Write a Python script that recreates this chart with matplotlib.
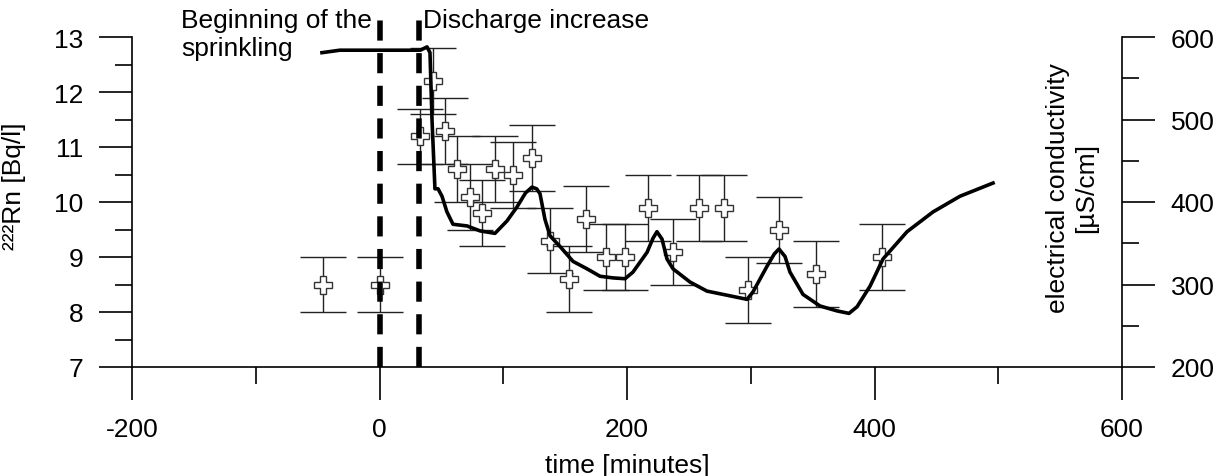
import numpy as np
import matplotlib
matplotlib.use("Agg")
import matplotlib.pyplot as plt
from matplotlib.ticker import MultipleLocator

plt.rcParams['font.family'] = ['Liberation Sans', 'DejaVu Sans']
plt.rcParams['font.size'] = 19
plt.rcParams['lines.scale_dashes'] = False
plt.rcParams['axes.unicode_minus'] = False

# radon measurements (time in minutes, Bq/l, error)
rn_time = [-46, 0, 33, 43, 53, 63, 73, 83, 93, 108, 123, 138, 153, 167,
           183, 198, 217, 237, 258, 278, 298, 323, 353, 406]
rn_value = [8.5, 8.5, 11.2, 12.2, 11.3, 10.6, 10.1, 9.8, 10.6, 10.5, 10.8, 9.3,
            8.6, 9.7, 9.0, 9.0, 9.9, 9.1, 9.9, 9.9, 8.4, 9.5, 8.7, 9.0]
rn_err = [0.5, 0.5, 0.5, 0.6, 0.6, 0.6, 0.6, 0.6, 0.6, 0.6, 0.6, 0.6,
          0.6, 0.6, 0.6, 0.6, 0.6, 0.6, 0.6, 0.6, 0.6, 0.6, 0.6, 0.6]

# electrical conductivity curve (time in minutes, uS/cm)
ec_time = [-46.5, -32, -1, 33, 38.4, 40.8, 42.4, 44.8, 47.3, 50.5, 54.5, 59.4,
           70.7, 81.2, 93.3, 103, 111.1, 118, 123.2, 127, 129.7, 133.7, 137.8,
           145.9, 156.4, 167.7, 178.2, 188.7, 198.4, 204.8, 216.2, 221, 224.2,
           228.3, 232.3, 237.2, 250.9, 264.6, 277.6, 297, 301.8, 313.1, 319,
           322.8, 327.7, 331.7, 342.2, 355.9, 369.7, 379.4, 385.9, 396.4,
           406.9, 426.3, 447.3, 469.1, 495.8]
ec_value = [581, 584, 584, 584, 588, 581, 501, 416, 416, 407, 388, 373,
            371, 365, 362, 377, 394, 411, 418, 416, 410, 379, 359,
            346, 328, 319, 310, 308, 307, 315, 339, 356, 364,
            355, 331, 319, 303, 292, 288, 282, 291, 322, 337,
            343, 334, 315, 288, 274, 268, 265, 273, 298,
            331, 364, 388, 407, 423]

# events
event_time = [0, 32]

fig = plt.figure(figsize=(12.26, 4.77), dpi=100)
ax = fig.add_axes([132 / 1226, 1 - 368 / 477, 990 / 1226, 330 / 477])
ax2 = ax.twinx()

ax.errorbar(rn_time, rn_value, yerr=rn_err, fmt='none', ecolor='#222222',
            elinewidth=1, capsize=16.5, capthick=1, zorder=2)
ax.plot(rn_time, rn_value, linestyle='none', marker='P', markersize=12.5,
        markerfacecolor='white', markeredgecolor='#333333',
        markeredgewidth=1, zorder=3)

ax2.plot(ec_time, ec_value, color='black', linewidth=2.6, zorder=4)

for t in event_time:
    ax.plot([t, t], [7, 13.4], color='black', linewidth=4.0,
            dashes=(14.5, 9.0), clip_on=False, zorder=10)

ax.set_xlim(-200, 600)
ax.set_ylim(7, 13)
ax2.set_ylim(200, 600)

ax.xaxis.set_major_locator(MultipleLocator(200))
ax.xaxis.set_minor_locator(MultipleLocator(100))
ax.yaxis.set_major_locator(MultipleLocator(1))
ax.yaxis.set_minor_locator(MultipleLocator(0.5))
ax2.yaxis.set_major_locator(MultipleLocator(100))
ax2.yaxis.set_minor_locator(MultipleLocator(50))

for a in (ax, ax2):
    a.spines['top'].set_visible(False)
    a.tick_params(which='major', direction='out', length=24, width=1.2)
    a.tick_params(which='minor', direction='out', length=12, width=1.2)
ax.spines['right'].set_visible(False)
ax2.spines['left'].set_visible(False)
ax2.spines['bottom'].set_visible(False)
for s in ('left', 'bottom'):
    ax.spines[s].set_linewidth(1.2)
ax2.spines['right'].set_linewidth(1.2)

ax.tick_params(axis='x', which='major', pad=12)
ax.tick_params(axis='y', which='major', pad=11)
ax2.tick_params(axis='y', which='major', pad=11)

ax.set_xlabel('time [minutes]')
ax.xaxis.set_label_coords(0.5, -0.26)
ax.set_ylabel('²²²Rn [Bq/l]')
ax.yaxis.set_label_coords(-0.107, 0.55)

fig.text(1072 / 1226, 1 - 188 / 477, 'electrical conductivity\n[µS/cm]',
         rotation=90, ha='center', va='center', multialignment='center')

ax.text(-6, 13.53, 'Beginning of the\nsprinkling', ha='right', va='top',
        multialignment='left')
ax.text(35, 13.53, 'Discharge increase', ha='left', va='top')

fig.savefig('out.png', dpi=100)
